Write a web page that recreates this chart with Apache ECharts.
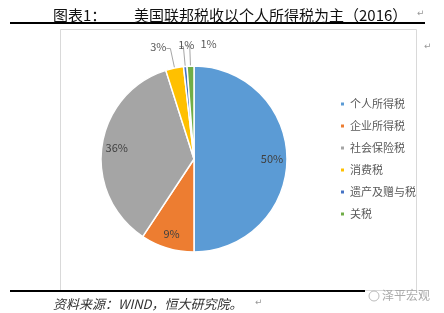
<!DOCTYPE html>
<html><head><meta charset="utf-8">
<script src="https://cdn.jsdelivr.net/npm/echarts@6/dist/echarts.min.js"></script>
<style>html,body{margin:0;padding:0;background:#fff}#c{width:444px;height:313px}</style>
</head><body><div id="c"></div>
<script>
const categories = ['个人所得税', '企业所得税', '社会保险税', '消费税', '遗产及赠与税', '关税'];
const values = [50.0, 9.3, 35.8, 3.1, 0.6, 1.2];
const colors = ['#5B9BD5', '#ED7D31', '#A5A5A5', '#FFC000', '#4472C4', '#70AD47'];
const titleLabel = '图表1：';
const titleText = '美国联邦税收以个人所得税为主（2016）';
const sourceText = '资料来源：WIND，恒大研究院。';
const watermark = '泽平宏观';
const insideIdx = [0, 1, 2];

const FONT = '"Noto Sans CJK SC", "Noto Sans", sans-serif';
const pct = p => Math.round(p.percent) + '%';

const chart = echarts.init(document.getElementById('c'), null, {renderer: 'canvas'});

const mainData = categories.map((n, i) => ({
  name: n, value: values[i],
  itemStyle: {color: colors[i]},
  label: {show: !insideIdx.includes(i)},
  labelLine: {show: !insideIdx.includes(i)}
}));
const labelData = categories.map((n, i) => ({
  name: n, value: values[i],
  itemStyle: {color: 'rgba(0,0,0,0)'},
  label: {show: insideIdx.includes(i)}
}));

chart.setOption({
  animation: false,
  color: colors,
  title: [
    {text: titleLabel, left: 48, top: 3, textStyle: {fontFamily: FONT, fontSize: 15, fontWeight: 'normal', color: '#111'}},
    {text: titleText, left: 129, top: 3, textStyle: {fontFamily: FONT, fontSize: 15, fontWeight: 'normal', color: '#111'}},
    {text: sourceText, left: 48, top: 293, textStyle: {fontFamily: FONT, fontSize: 13, fontStyle: 'italic', fontWeight: 'normal', color: '#333'}}
  ],
  legend: {
    orient: 'vertical', left: 334, top: 93,
    itemWidth: 5, itemHeight: 5, itemGap: 10, icon: 'rect',
    textStyle: {fontFamily: FONT, fontSize: 11, color: '#595959', lineHeight: 12},
    data: categories
  },
  graphic: [
    {type: 'rect', shape: {x: 60.5, y: 29.5, width: 356, height: 261}, style: {fill: '#fff', stroke: '#d9d9d9', lineWidth: 1}, z: -10},
    {type: 'line', shape: {x1: 10, y1: 23, x2: 425, y2: 23}, style: {stroke: '#000', lineWidth: 2}},
    {type: 'line', shape: {x1: 10, y1: 291, x2: 365, y2: 291}, style: {stroke: '#000', lineWidth: 2}},
    {type: 'text', left: 417, top: 9, style: {text: '↵', fill: '#999', fontSize: 9, fontFamily: 'DejaVu Sans'}},
    {type: 'text', left: 424, top: 42, style: {text: '↵', fill: '#999', fontSize: 9, fontFamily: 'DejaVu Sans'}},
    {type: 'text', left: 255, top: 298, style: {text: '↵', fill: '#999', fontSize: 9, fontFamily: 'DejaVu Sans'}},
    {type: 'circle', shape: {cx: 374, cy: 296, r: 5}, style: {fill: 'none', stroke: '#bbb', lineWidth: 1}},
    {type: 'text', left: 382, top: 289, style: {text: watermark, fill: '#aaa', fontSize: 12, fontFamily: FONT}}
  ],
  series: [
    {
      type: 'pie', name: 'main', center: [194, 159], radius: 93,
      startAngle: 90, clockwise: true, avoidLabelOverlap: false,
      itemStyle: {borderColor: '#fff', borderWidth: 1.5},
      label: {position: 'outside', formatter: pct, fontFamily: FONT, fontSize: 11, color: '#595959'},
      labelLine: {length: 20, length2: 4, lineStyle: {color: '#a6a6a6', width: 1}},
      labelLayout: function (p) {
        if (p.dataIndex === 5) return {dx: 36, dy: -2};
        if (p.dataIndex === 4) return {dx: 20, dy: -2};
        if (p.dataIndex === 3) return {dx: 5, dy: -2};
      },
      data: mainData
    },
    {
      type: 'pie', name: 'labels', center: [194, 159], radius: [58, 92],
      startAngle: 90, clockwise: true, silent: true, legendHoverLink: false,
      label: {position: 'inside', formatter: pct, fontFamily: FONT, fontSize: 11, color: '#404040'},
      labelLine: {show: false},
      data: labelData
    }
  ]
});
</script>
</body></html>
